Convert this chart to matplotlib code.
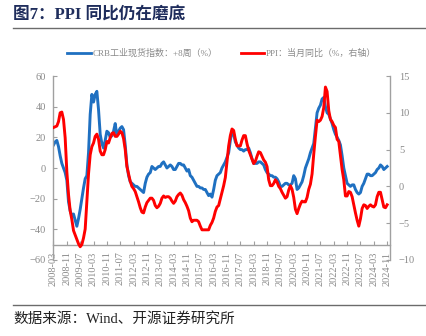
import numpy as np
import pandas as pd
import matplotlib
matplotlib.use("Agg")
import matplotlib.pyplot as plt
from matplotlib.lines import Line2D

# monthly data, 2008-03 .. 2024-11
months = pd.period_range("2008-03", "2024-11", freq="M")

# CRB raw industrials YoY, shifted +8 weeks (%), left axis
crb = [
    15, 17, 18, 14, 8, 3, 0, -3, -8, -22,                      # 2008
    -28, -31, -30, -34, -38, -33, -27, -20, -13, -7, -5, 10,   # 2009
    35, 48, 43, 48, 50, 38, 22, 16, 13, 18, 24, 23,            # 2010
    20, 21, 24, 29, 21, 24, 26, 27, 25, 15, 2, -5,             # 2011
    -9, -10, -11, -12, -12, -13, -14, -15, -16, -10, -6, -4,   # 2012
    -3, 1, 0, -1, 0, 1, 1, 3, 4, 2, 0, 1,                      # 2013
    2, 1, -1, -1, 1, 3, 3, 2, 2, 0, -2, -1,                    # 2014
    -5, -6, -8, -10, -12, -12, -13, -13, -14, -14, -16, -18,   # 2015
    -17, -19, -14, -8, -5, -4, -3, 0, 2, 4, 7, 10,             # 2016
    18, 24, 22, 17, 15, 13, 12, 12, 11, 12, 12, 13,            # 2017
    10, 6, 3, 3, 3, 4, 4, 3, 2, -1, -3, -4,                    # 2018
    -5, -5, -6, -6, -7, -9, -12, -12, -11, -10, -10, -11,      # 2019
    -11, -10, -5, -7, -14, -13, -11, -9, -5, 0, 3, 6,          # 2020
    10, 13, 16, 26, 36, 39, 41, 45, 46, 40, 36, 35,            # 2021
    32, 29, 25, 22, 20, 18, 15, 8, 0, -5, -10, -11,            # 2022
    -12, -11, -11, -14, -16, -17, -16, -12, -10, -7, -4, -4,   # 2023
    -5, -5, -4, -3, -1, 0, 2, 1, -1, 0, 1,                     # 2024
]

# PPI YoY (%), right axis
ppi = [
    8.0, 8.1, 8.2, 8.8, 10.0, 10.1, 9.1, 6.6, 2.0, -1.1,
    -3.3, -4.5, -6.0, -6.6, -7.2, -7.8, -8.2, -7.9, -7.0, -5.8, -2.1, 1.7,
    4.3, 5.4, 5.9, 6.8, 7.1, 6.4, 4.8, 4.3, 4.3, 5.0, 6.1, 5.9,
    6.6, 7.2, 7.3, 6.8, 6.8, 7.1, 7.5, 7.3, 6.5, 5.0, 2.7, 1.7,
    0.7, 0.0, -0.3, -0.7, -1.4, -2.1, -2.9, -3.5, -3.6, -2.8, -2.2, -1.9,
    -1.6, -1.6, -1.9, -2.6, -2.9, -2.7, -2.3, -1.6, -1.3, -1.5, -1.4, -1.4,
    -1.6, -2.0, -2.3, -2.0, -1.4, -1.1, -0.9, -1.2, -1.8, -2.2, -2.7, -3.3,
    -4.3, -4.8, -4.6, -4.6, -4.6, -4.8, -5.4, -5.9, -5.9, -5.9, -5.9, -5.9,
    -5.3, -4.9, -4.3, -3.4, -2.8, -2.6, -1.7, -0.8, 0.1, 1.2, 3.3, 5.5,
    6.9, 7.8, 7.6, 6.4, 5.5, 5.5, 5.5, 6.3, 6.9, 6.9, 5.8, 4.9,
    4.3, 3.7, 3.1, 3.4, 4.1, 4.7, 4.6, 4.1, 3.6, 3.3, 2.7, 0.9,
    0.1, 0.1, 0.4, 0.9, 0.6, 0.0, -0.3, -0.8, -1.2, -1.6, -1.4, -0.5,
    0.1, -0.4, -1.5, -3.1, -3.7, -3.0, -2.4, -2.0, -2.1, -2.1, -1.5, -0.4,
    0.3, 1.7, 4.4, 6.8, 9.0, 8.8, 9.0, 9.5, 10.7, 13.5, 12.9, 10.3,
    9.1, 8.8, 8.3, 8.0, 6.4, 6.1, 4.2, 2.3, 0.9, -1.3, -1.3, -0.7,
    -0.8, -1.4, -2.5, -3.6, -4.6, -5.4, -4.4, -3.0, -2.5, -2.6, -3.0, -2.7,
    -2.5, -2.7, -2.8, -2.5, -1.4, -0.8, -0.8, -1.8, -2.8, -2.9, -2.5,
]

left_ticks = [-60, -40, -20, 0, 20, 40, 60]
right_ticks = [-10, -5, 0, 5, 10, 15]

BLUE = "#1f70c1"
RED = "#ff0000"
GREY = "#8a8a8a"
SPINE = "#a0a0a0"
SERIF = ["Liberation Serif", "Noto Sans CJK SC"]

plt.rcParams["font.family"] = SERIF

x = np.arange(len(months))
tick_idx = x[::8]
tick_lab = [p.strftime("%Y-%m") for p in months[::8]]

fig = plt.figure(figsize=(4.27, 3.36), dpi=100)
ax = fig.add_axes([0.1241, 0.2262, 0.7904, 0.5476])
ax2 = ax.twinx()

ax.plot(x, crb, color=BLUE, lw=2.1, solid_joinstyle="round")
ax2.plot(x, ppi, color=RED, lw=2.1, solid_joinstyle="round")

ax.set_xlim(-0.3, 202)
ax.set_ylim(-60, 60)
ax2.set_ylim(-10, 15)
ax.set_yticks(left_ticks)
ax2.set_yticks(right_ticks)
ax.set_xticks(tick_idx)
ax.set_xticklabels(tick_lab)

for a in (ax, ax2):
    a.spines["top"].set_visible(False)
    for s in a.spines.values():
        s.set_color(SPINE)
        s.set_linewidth(1.0)
ax.spines["right"].set_visible(False)
ax2.spines["left"].set_visible(False)
ax2.spines["bottom"].set_visible(False)
ax.spines["bottom"].set_position(("data", -50))

ax.tick_params(axis="y", direction="in", length=3, width=0.8, color=SPINE,
               labelsize=7.5, labelcolor=GREY, pad=5)
ax.tick_params(axis="x", direction="in", length=3, width=0.8, color=SPINE,
               labelsize=7.5, labelcolor=GREY, pad=5, labelrotation=90)
ax2.tick_params(axis="y", direction="in", length=3, width=0.8, color=SPINE,
                labelsize=7.5, labelcolor=GREY, pad=6)
for lab in ax.get_xticklabels():
    lab.set_rotation(90)
    lab.set_ha("center")
    lab.set_va("top")

# legend
handles = [Line2D([], [], color=BLUE, lw=2.0), Line2D([], [], color=RED, lw=2.0)]
labels = ["CRB工业现货指数：+8周（%）", "PPI：当月同比（%，右轴）"]
fig.legend(handles, labels, loc="center", bbox_to_anchor=(0.519, 0.842), ncol=2,
           frameon=False, fontsize=6.5, labelcolor=GREY, handlelength=2.6,
           handletextpad=0.15, columnspacing=2.6)

# title, rules and source
fig.text(13 / 427, 1 - 15 / 336, "图7：PPI 同比仍在磨底", fontsize=12, fontweight="bold",
         color="#1f2d5c", va="center", ha="left")
fig.add_artist(Line2D([13 / 427, 1], [1 - 28 / 336] * 2, color="#6b6b6b", lw=1.0))
fig.add_artist(Line2D([13 / 427, 1], [1 - 305 / 336] * 2, color="#6b6b6b", lw=1.0))
fig.text(13 / 427, 1 - 319 / 336, "数据来源：Wind、开源证券研究所", fontsize=10.5,
         color="#222222", va="center", ha="left")

fig.savefig("out.png", dpi=100)
